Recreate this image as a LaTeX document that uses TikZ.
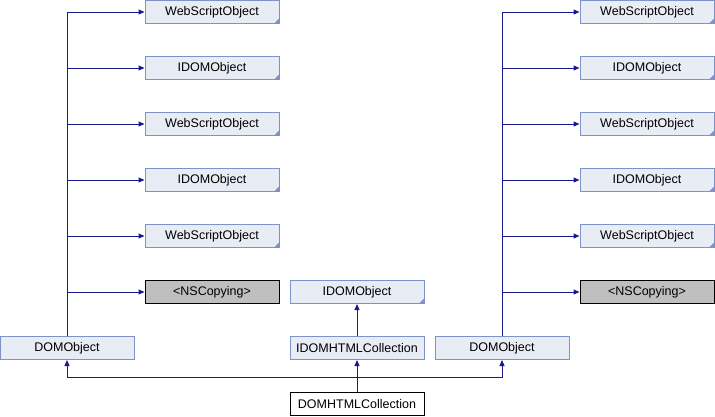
\documentclass[tikz,border=0pt]{standalone}
\usepackage{fontspec}
\setmainfont{Liberation Sans}
\usetikzlibrary{arrows.meta}
\definecolor{edgeblue}{HTML}{1A1A8C}
\definecolor{boxfill}{HTML}{E8ECF5}
\definecolor{boxline}{HTML}{7D93C8}
\tikzset{
  cls/.style={draw=boxline, fill=boxfill, line width=1pt, minimum width=134pt, minimum height=23pt, inner sep=0pt, font=\fontsize{12.5}{14}\selectfont},
  ext/.style={cls, path picture={\fill[boxline] (path picture bounding box.south east) -- ++(-5pt,0) -- ++(5pt,5pt) -- cycle;}},
  proto/.style={cls, draw=black, fill=black!25},
  plain/.style={cls, draw=black, fill=white},
  edge/.style={draw=edgeblue, line width=1pt, -{Triangle[length=6pt,width=5pt]}},
}
\begin{document}
\begin{tikzpicture}[x=1pt, y=-1pt]
    \useasboundingbox (0,0) rectangle (715,416);
    % left column
    \node[ext] (wsoLa) at (212,12) {WebScriptObject};
    \node[ext] (idoLa) at (212,68) {IDOMObject};
    \node[ext] (wsoLb) at (212,124) {WebScriptObject};
    \node[ext] (idoLb) at (212,180) {IDOMObject};
    \node[ext] (wsoLc) at (212,236) {WebScriptObject};
    \node[proto] (nscL) at (212,292) {<NSCopying>};
    \node[cls] (domL) at (67,348) {DOMObject};
    % right column
    \node[ext] (wsoRa) at (647,12) {WebScriptObject};
    \node[ext] (idoRa) at (647,68) {IDOMObject};
    \node[ext] (wsoRb) at (647,124) {WebScriptObject};
    \node[ext] (idoRb) at (647,180) {IDOMObject};
    \node[ext] (wsoRc) at (647,236) {WebScriptObject};
    \node[proto] (nscR) at (647,292) {<NSCopying>};
    \node[cls] (domR) at (502,348) {DOMObject};
    % middle
    \node[ext] (ido) at (357,292) {IDOMObject};
    \node[cls] (idhc) at (357,348) {IDOMHTMLCollection};
    \node[plain] (dhc) at (357,404) {DOMHTMLCollection};
    \coordinate (bus) at (357,377);
    \draw[edge] (domL.north) |- (wsoLa.west);
    \draw[edge] (domL.north) |- (idoLa.west);
    \draw[edge] (domL.north) |- (wsoLb.west);
    \draw[edge] (domL.north) |- (idoLb.west);
    \draw[edge] (domL.north) |- (wsoLc.west);
    \draw[edge] (domL.north) |- (nscL.west);
    \draw[edge] (domR.north) |- (wsoRa.west);
    \draw[edge] (domR.north) |- (idoRa.west);
    \draw[edge] (domR.north) |- (wsoRb.west);
    \draw[edge] (domR.north) |- (idoRb.west);
    \draw[edge] (domR.north) |- (wsoRc.west);
    \draw[edge] (domR.north) |- (nscR.west);
    \draw[edge] (idhc) -- (ido);
    \draw[edge] (dhc) -- (idhc);
    \draw[edge] (dhc.north) -- (bus) -| (domL.south);
    \draw[edge] (bus) -| (domR.south);
\end{tikzpicture}
\end{document}
